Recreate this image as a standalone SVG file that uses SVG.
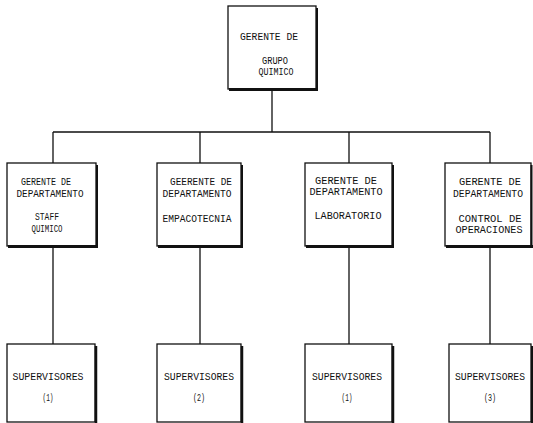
<svg xmlns="http://www.w3.org/2000/svg" width="533" height="423" viewBox="0 0 533 423">
<style>
.box{fill:#fff;stroke:#111;stroke-width:1.3}
.sh{stroke:#111;fill:none}
.t{font-family:"Liberation Mono","DejaVu Sans Mono",monospace;font-size:11px;fill:#111;text-anchor:middle}
.c{stroke:#111;stroke-width:1.3;fill:none}
</style>
<rect width="533" height="423" fill="#fff"/>
<g id="connectors">
<path class="c" d="M272 90V132M53 132H490M53 132V163M200 132V163M349 132V163M490 132V163"/>
<path class="c" d="M53 247V344M200 247V344M349 247V344M490 247V344"/>
</g>
<g id="top">
<rect class="box" x="228" y="6" width="88" height="83"/>
<path class="sh" stroke-width="3" d="M229 89.5H318"/><path class="sh" stroke-width="2" d="M317 8V90"/>
<text class="t" x="269" y="40" textLength="58" lengthAdjust="spacingAndGlyphs">GERENTE DE</text>
<text class="t" x="275" y="64" textLength="26" lengthAdjust="spacingAndGlyphs">GRUPO</text>
<text class="t" x="276" y="75" textLength="35" lengthAdjust="spacingAndGlyphs">QUIMICO</text>
</g>
<g id="dept1">
<rect class="box" x="7" y="163" width="89" height="83"/>
<path class="sh" stroke-width="3" d="M8 246.5H98"/><path class="sh" stroke-width="2" d="M97 165V247"/>
<text class="t" x="46" y="185" textLength="50" lengthAdjust="spacingAndGlyphs">GERENTE DE</text>
<text class="t" x="50" y="197" textLength="67" lengthAdjust="spacingAndGlyphs">DEPARTAMENTO</text>
<text class="t" x="47" y="220" textLength="24" lengthAdjust="spacingAndGlyphs">STAFF</text>
<text class="t" x="47" y="232" textLength="31" lengthAdjust="spacingAndGlyphs">QUIMICO</text>
</g>
<g id="dept2">
<rect class="box" x="157" y="163" width="84" height="83"/>
<path class="sh" stroke-width="3" d="M158 246.5H243"/><path class="sh" stroke-width="2" d="M242 165V247"/>
<text class="t" x="201" y="185" textLength="62" lengthAdjust="spacingAndGlyphs">GEERENTE DE</text>
<text class="t" x="197" y="197" textLength="69" lengthAdjust="spacingAndGlyphs">DEPARTAMENTO</text>
<text class="t" x="197" y="222" textLength="69" lengthAdjust="spacingAndGlyphs">EMPACOTECNIA</text>
</g>
<g id="dept3">
<rect class="box" x="305" y="163" width="87" height="83"/>
<path class="sh" stroke-width="3" d="M306 246.5H394"/><path class="sh" stroke-width="2" d="M393 165V247"/>
<text class="t" x="346" y="184" textLength="62" lengthAdjust="spacingAndGlyphs">GERENTE DE</text>
<text class="t" x="346" y="195" textLength="73" lengthAdjust="spacingAndGlyphs">DEPARTAMENTO</text>
<text class="t" x="348" y="219" textLength="67" lengthAdjust="spacingAndGlyphs">LABORATORIO</text>
</g>
<g id="dept4">
<rect class="box" x="445" y="163" width="86" height="83"/>
<path class="sh" stroke-width="3" d="M446 246.5H533"/><path class="sh" stroke-width="2" d="M531.5 165V247"/>
<text class="t" x="490" y="185" textLength="62" lengthAdjust="spacingAndGlyphs">GERENTE DE</text>
<text class="t" x="488" y="197" textLength="70" lengthAdjust="spacingAndGlyphs">DEPARTAMENTO</text>
<text class="t" x="490" y="222" textLength="63" lengthAdjust="spacingAndGlyphs">CONTROL DE</text>
<text class="t" x="489" y="233" textLength="67" lengthAdjust="spacingAndGlyphs">OPERACIONES</text>
</g>
<g id="sup1">
<rect class="box" x="7" y="344" width="88" height="78"/>
<path class="sh" stroke-width="2.5" d="M96 346V423"/>
<text class="t" x="48" y="380" textLength="71" lengthAdjust="spacingAndGlyphs">SUPERVISORES</text>
<text class="t" x="48" y="401" textLength="11" lengthAdjust="spacingAndGlyphs">(1)</text>
</g>
<g id="sup2">
<rect class="box" x="157" y="344" width="84" height="78"/>
<path class="sh" stroke-width="2.5" d="M242 346V423"/>
<text class="t" x="199" y="380" textLength="70" lengthAdjust="spacingAndGlyphs">SUPERVISORES</text>
<text class="t" x="199" y="401" textLength="12" lengthAdjust="spacingAndGlyphs">(2)</text>
</g>
<g id="sup3">
<rect class="box" x="305" y="344" width="87" height="78"/>
<path class="sh" stroke-width="2.5" d="M393 346V423"/>
<text class="t" x="347" y="380" textLength="70" lengthAdjust="spacingAndGlyphs">SUPERVISORES</text>
<text class="t" x="347" y="401" textLength="11" lengthAdjust="spacingAndGlyphs">(1)</text>
</g>
<g id="sup4">
<rect class="box" x="449" y="344" width="82" height="78"/>
<path class="sh" stroke-width="2" d="M532 346V423"/>
<text class="t" x="490" y="380" textLength="70" lengthAdjust="spacingAndGlyphs">SUPERVISORES</text>
<text class="t" x="490" y="401" textLength="12" lengthAdjust="spacingAndGlyphs">(3)</text>
</g>
</svg>
